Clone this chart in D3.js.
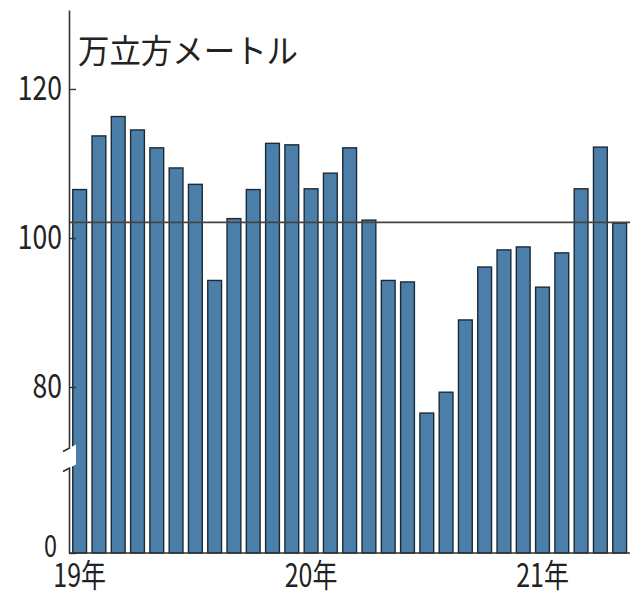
<!DOCTYPE html>
<html>
<head>
<meta charset="utf-8">
<script src="https://cdn.jsdelivr.net/npm/d3@7"></script>
<style>
	html, body { margin: 0; padding: 0; background: #fff; }
	#chart { width: 630px; height: 595px; }
	text { font-family: "Noto Sans CJK JP", "Noto Sans", sans-serif; fill: #222; }
</style>
</head>
<body>
<div id="chart"></div>
<script>
// monthly values, Jan 2019 - May 2021
let months		= d3.range(29);
let values		= [106.5, 113.7, 116.3, 114.5, 112.1, 109.4, 107.2, 94.3, 102.6, 106.5, 112.7, 112.5,
				   106.6, 108.7, 112.1, 102.4, 94.3, 94.1, 76.5, 79.3, 89.0, 96.1, 98.4, 98.8,
				   93.4, 98.0, 106.6, 112.2, 102.0];
let refValue	= 102.1;
let yearLabels	= ["19年", "20年", "21年"];
let yearIndex	= [0, 12, 24];
let yTicks		= [0, 80, 100, 120];
let unitLabel	= "万立方メートル";

function createChart() {
	let canvasWidth		= 630;
	let canvasHeight	= 595;

	let svg = d3.select("#chart").append("svg")
		.attr("width", canvasWidth)
		.attr("height", canvasHeight);

	// broken axis: 0-68 squeezed into the bottom part
	let y = d3.scaleLinear()
		.domain([0, 68, 130.6])
		.range([553, 476.4, 10]);

	let x = d3.scaleBand()
		.domain(months)
		.range([70, 629.3])
		.paddingInner(0.285)
		.paddingOuter(0.1425);

	let axisX = 69;

	svg.selectAll("rect.bar")
		.data(values)
		.enter().append("rect")
			.attr("class", "bar")
			.attr("x", (d, i) => x(i))
			.attr("y", (d) => y(d))
			.attr("width", x.bandwidth())
			.attr("height", (d) => y(0) - y(d))
			.attr("fill", "#4b7fa9")
			.attr("stroke", "#1c2a36")
			.attr("stroke-width", 1.4);

	// reference line
	svg.append("line")
		.attr("x1", axisX).attr("x2", canvasWidth)
		.attr("y1", y(refValue)).attr("y2", y(refValue))
		.attr("stroke", "#444")
		.attr("stroke-width", 1.6);

	// bottom baseline
	svg.append("line")
		.attr("x1", axisX).attr("x2", canvasWidth)
		.attr("y1", y(0)).attr("y2", y(0))
		.attr("stroke", "#333")
		.attr("stroke-width", 1.6);

	let yAxis = svg.append("g")
		.attr("transform", "translate(" + axisX + ",0)")
		.call(d3.axisLeft(y)
			.tickValues(yTicks)
			.tickSizeInner(-7)
			.tickSizeOuter(0)
			.tickPadding(7));

	yAxis.select(".domain").attr("stroke", "#333").attr("stroke-width", 1.6);
	yAxis.selectAll(".tick line").attr("stroke", "#333").attr("stroke-width", 1.4);
	yAxis.selectAll(".tick text")
		.attr("font-size", 34)
		.attr("font-family", "'Noto Sans CJK JP', sans-serif")
		.attr("fill", "#222")
		.attr("x", -7 / 0.78)
		.attr("transform", "scale(0.78,1)");
	yAxis.selectAll(".tick").filter((d) => d === 0).select("text")
		.attr("font-size", 30)
		.attr("x", -12 / 0.78)
		.attr("dy", "0.1em");

	// axis break mark
	let yb = y(70.8);
	let brk = svg.append("g");
	brk.append("path")
		.attr("d", "M" + (axisX - 6) + "," + (yb - 4) + " L" + (axisX + 7) + "," + (yb - 11)
			+ " L" + (axisX + 7) + "," + (yb + 9) + " L" + (axisX - 6) + "," + (yb + 16) + "Z")
		.attr("fill", "#fff");
	brk.selectAll("line.cut")
		.data([-4, 16])
		.enter().append("line")
			.attr("class", "cut")
			.attr("x1", axisX - 6).attr("x2", axisX + 1)
			.attr("y1", (d) => yb + d).attr("y2", (d) => yb + d - 3.8)
			.attr("stroke", "#333")
			.attr("stroke-width", 1.6);

	// year labels
	svg.selectAll("text.year")
		.data(yearLabels)
		.enter().append("text")
			.attr("class", "year")
			.attr("transform", (d, i) => "translate(" + (x(yearIndex[i]) + x.bandwidth() / 2) + ",587) scale(0.78,1)")
			.attr("text-anchor", "middle")
			.attr("font-size", 32)
			.text((d) => d);

	// unit label
	svg.append("text")
		.attr("x", 78)
		.attr("y", 63)
		.attr("font-size", 33)
		.attr("textLength", 220)
		.attr("lengthAdjust", "spacingAndGlyphs")
		.text(unitLabel);
}

createChart();
</script>
</body>
</html>
